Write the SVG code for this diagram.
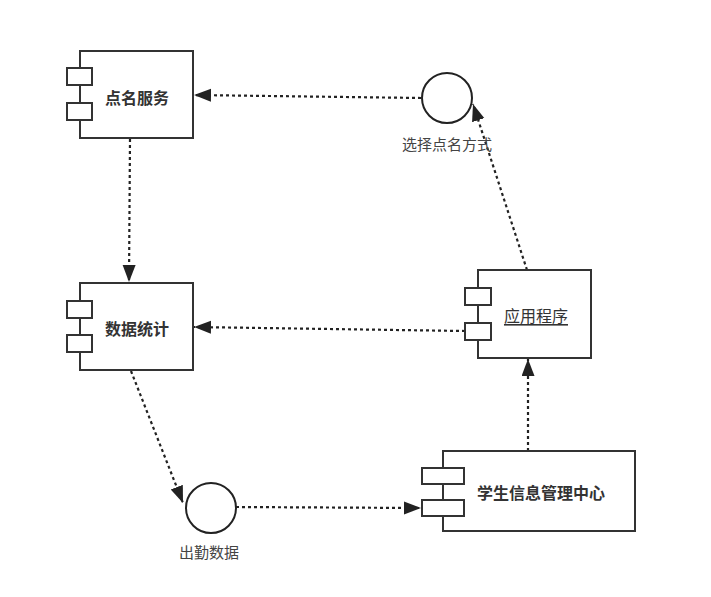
<svg xmlns="http://www.w3.org/2000/svg" width="711" height="597" viewBox="0 0 711 597">
<style>
.box{fill:#fff;stroke:#333;stroke-width:2}
.port{fill:#fff;stroke:#333;stroke-width:2}
.iface{fill:#fff;stroke:#222;stroke-width:2}
.edge{fill:none;stroke:#222;stroke-width:2.2;stroke-dasharray:3 3;marker-end:url(#arr)}
.t{font-family:"Noto Sans CJK SC","Liberation Sans",sans-serif;font-size:16px;fill:#333;text-anchor:middle;dominant-baseline:central}
.b{font-weight:bold}
.l{font-size:15px;fill:#444}
</style>
<defs>
<marker id="arr" markerUnits="userSpaceOnUse" markerWidth="18" markerHeight="14" refX="17" refY="6.5" orient="auto">
<path d="M0,0 L17,6.5 L0,13 Z" fill="#222"/>
</marker>
</defs>
<rect width="711" height="597" fill="#fff"/>
<g id="connectors">
<line class="edge" x1="421" y1="98" x2="194" y2="95"/>
<line class="edge" x1="527" y1="270" x2="473" y2="104"/>
<line class="edge" x1="130" y1="139" x2="129" y2="282"/>
<line class="edge" x1="465" y1="331" x2="194" y2="327"/>
<line class="edge" x1="131" y1="371" x2="183" y2="503"/>
<line class="edge" x1="236" y1="507" x2="421" y2="508"/>
<line class="edge" x1="528" y1="451" x2="528" y2="359"/>
</g>
<g id="dianming">
<rect class="box" x="80" y="51" width="113" height="87"/>
<rect class="port" x="67" y="68" width="25" height="17"/>
<rect class="port" x="67" y="103" width="25" height="17"/>
<text class="t b" x="137" y="97">点名服务</text>
</g>
<g id="shuju">
<rect class="box" x="80" y="283" width="113" height="87"/>
<rect class="port" x="67" y="301" width="25" height="17"/>
<rect class="port" x="67" y="335" width="25" height="17"/>
<text class="t b" x="137" y="328">数据统计</text>
</g>
<g id="yingyong">
<rect class="box" x="478" y="270" width="113" height="88"/>
<rect class="port" x="465" y="288" width="26" height="17"/>
<rect class="port" x="465" y="323" width="26" height="17"/>
<text class="t" x="536" y="315" text-decoration="underline">应用程序</text>
</g>
<g id="xuesheng">
<rect class="box" x="443" y="451" width="192" height="80"/>
<rect class="port" x="422" y="468" width="42" height="16"/>
<rect class="port" x="422" y="500" width="42" height="16"/>
<text class="t b" x="541" y="492">学生信息管理中心</text>
</g>
<g id="xuanze">
<circle class="iface" cx="447" cy="98" r="25"/>
<text class="t l" x="447" y="143">选择点名方式</text>
</g>
<g id="chuqin">
<circle class="iface" cx="211" cy="508" r="25"/>
<text class="t l" x="209" y="551">出勤数据</text>
</g>
</svg>
